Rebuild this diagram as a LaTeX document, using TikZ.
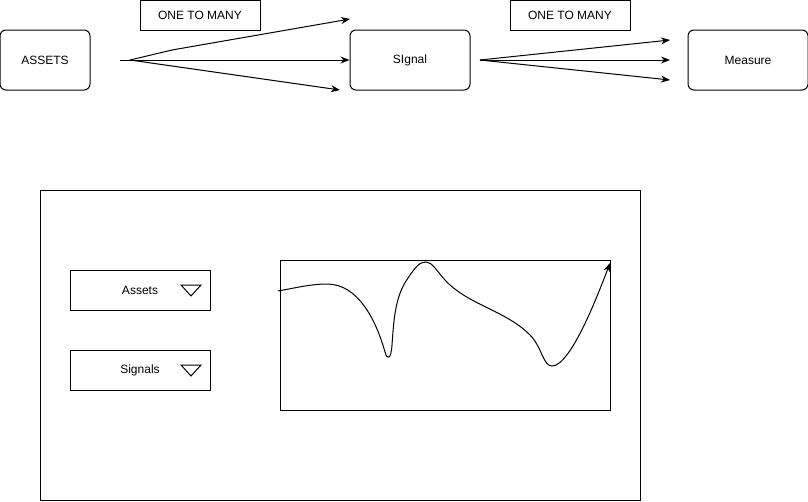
\documentclass[tikz,border=0pt]{standalone}
\usepackage{fontspec}
\setmainfont{Liberation Sans}
\usetikzlibrary{arrows.meta}

\tikzset{
  box/.style={draw, rounded corners=6pt, minimum width=90pt, minimum height=60pt, inner sep=0pt},
  tag/.style={draw, minimum width=120pt, minimum height=30pt, inner sep=0pt},
  pick/.style={draw, minimum width=140pt, minimum height=40pt, inner sep=0pt},
  link/.style={-{Stealth[length=9pt,width=7pt]}}
}

\begin{document}
\begin{tikzpicture}[x=1pt, y=-1pt, line width=1pt, font=\fontsize{12}{14}\selectfont]
\useasboundingbox (0,0) rectangle (808,501);

\node[box] (assets) at (45,60) {ASSETS};
\node[box, minimum width=120pt] (signal) at (410,60) {SIgnal};
\node[box, minimum width=120pt] (measure) at (748,60) {Measure};
\node[tag] (tag1) at (200,15) {ONE TO MANY};
\node[tag] (tag2) at (570,15) {ONE TO MANY};

\coordinate (fork1) at (120,60);
\coordinate (fork1b) at (130,60);
\coordinate (bend) at (172,50);
\coordinate (sig up) at (350,19);
\coordinate (sig down) at (340,90);
\coordinate (fork2) at (480,60);
\coordinate (mea up) at (670,40);
\coordinate (mea mid) at (670,60);
\coordinate (mea down) at (670,80);

\draw (fork1)--(fork1b);
\draw[link] (fork1b)--(bend)--(sig up);
\draw[link] (fork1b)--(signal.west);
\draw[link] (fork1b)--(sig down);

\draw[link] (fork2)--(mea up);
\draw[link] (fork2)--(mea mid);
\draw[link] (fork2)--(mea down);

% screen
\draw (40,190) rectangle (640,500);
\node[pick] (pick assets) at (140,290) {Assets};
\node[pick] (pick signals) at (140,370) {Signals};
\foreach \y in {290,370}
\draw (181,\y-5)--(201,\y-5)--(191,\y+6)--cycle;

% chart
\draw (280,260) rectangle (610,410);
\draw[link] (278,291) .. controls (300,287) and (312,284) .. (327,284)
  .. controls (358,284) and (376,320) .. (385,352)
  .. controls (387,360) and (391,360) .. (392,345)
  .. controls (394,315) and (396,295) .. (408,278)
  .. controls (416,266) and (420,262) .. (426,262)
  .. controls (432,262) and (436,270) .. (445,280)
  .. controls (468,305) and (505,310) .. (530,335)
  .. controls (542,347) and (543,366) .. (552,366)
  .. controls (570,366) and (596,300) .. (610,263);

\end{tikzpicture}
\end{document}
